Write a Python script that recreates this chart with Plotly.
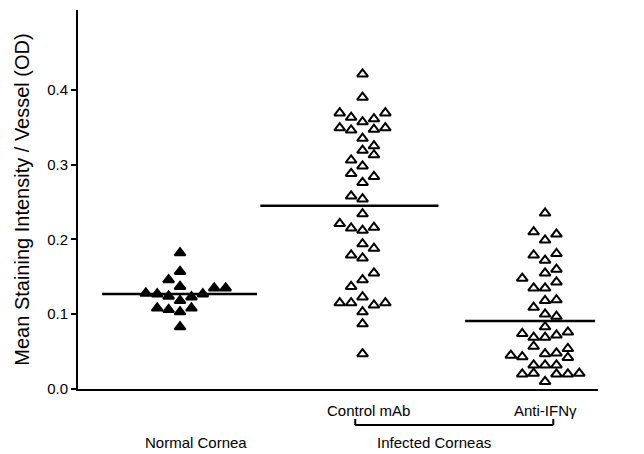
import plotly.graph_objects as go

# ---------------- data ----------------
group_names = ["Normal Cornea", "Control mAb", "Anti-IFNγ"]

# column slot (beeswarm offset) and value for each point
normal_slot = [0, 0, -1, 0, -3, -2, 3, 4, -1, 2, 1, 0, -2, -1, 1, 0, 0]
normal_val = [0.182, 0.157, 0.146, 0.137, 0.128, 0.127, 0.135, 0.135, 0.124,
              0.127, 0.123, 0.118, 0.108, 0.106, 0.108, 0.103, 0.083]

control_slot = [0, 0, -2, -1, 0, 1, 2, -2, -1, 0, 1, 2, 0, 1, 1, -1, 0, -1, 1, 0,
                -1, 0, 0, -2, -1, 0, 1, 0, 1, -1, 0, 1, 0, -1, -2, -1, 0, 1, 2,
                0, 0, 0]
control_val = [0.421, 0.390, 0.369, 0.363, 0.357, 0.361, 0.369, 0.349, 0.346,
               0.335, 0.347, 0.349, 0.319, 0.325, 0.313, 0.306, 0.298, 0.288,
               0.284, 0.276, 0.258, 0.254, 0.234, 0.221, 0.215, 0.212, 0.216,
               0.194, 0.188, 0.179, 0.175, 0.155, 0.146, 0.137, 0.115, 0.115,
               0.123, 0.112, 0.115, 0.103, 0.087, 0.047]

anti_slot = [0, -1, 0, 1, -1, 0, 1, 0, 1, -2, 1, -1, 0, -1, 0, 1, 0, 1, 0, -2,
             -1, 0, 1, 2, -1, 0, 1, 2, 2, -3, -2, -1, 0, 1, -2, -1, 0, 1, 2, 3]
anti_val = [0.235, 0.210, 0.199, 0.207, 0.179, 0.172, 0.181, 0.155, 0.160,
            0.148, 0.143, 0.135, 0.135, 0.109, 0.118, 0.119, 0.100, 0.097,
            0.083, 0.074, 0.069, 0.069, 0.072, 0.076, 0.057, 0.047, 0.048,
            0.054, 0.042, 0.045, 0.043, 0.032, 0.032, 0.032, 0.020, 0.021,
            0.010, 0.020, 0.020, 0.021]

group_means = [0.127, 0.245, 0.091]

y_tick_vals = [0.0, 0.1, 0.2, 0.3, 0.4]
y_title = "Mean Staining Intensity / Vessel (OD)"
infected_label = "Infected Corneas"

# ---------------- layout constants ----------------
# the page body has an 8px margin, so figure pixel = screen pixel - 8
OFF = 8
W, H = 644, 454
ML, MR, MT, MB = 78 - OFF, 54, 10 - OFF, H - (389 - OFF)
SLOT = 0.0625                      # x width of one beeswarm column (group units)
X_RANGE = [-0.559, 2.29]
Y_RANGE = [0, 0.5067]
line_ext = [(-0.427, 0.422), (-0.56, 0.416), (-0.438, 0.274)]
FONT = "Liberation Sans, Arial, Helvetica, sans-serif"

def xp(x):
    """data x -> paper x"""
    return (x - X_RANGE[0]) / (X_RANGE[1] - X_RANGE[0])

def yp(py_screen):
    """screen pixel y (from top) -> paper y"""
    py = py_screen - OFF
    return (H - MB - py) / (H - MB - MT)

fig = go.Figure()

series = [
    (normal_slot, normal_val, "triangle-up", "black"),
    (control_slot, control_val, "triangle-up-open", "black"),
    (anti_slot, anti_val, "triangle-up-open", "black"),
]
for gi, (slots, vals, sym, col) in enumerate(series):
    fig.add_trace(go.Scatter(
        x=[gi + s * SLOT for s in slots], y=vals, mode="markers",
        marker=dict(symbol=sym, size=9.5, color=col,
                    line=dict(color="black", width=2)),
        showlegend=False, cliponaxis=False))

for gi, m in enumerate(group_means):
    a, b = line_ext[gi]
    fig.add_trace(go.Scatter(
        x=[gi + a, gi + b], y=[m, m], mode="lines",
        line=dict(color="black", width=2.5), showlegend=False))

annos = [
    dict(x=1.03, y=yp(410), text=group_names[1]),
    dict(x=2.0, y=yp(410), text=group_names[2]),
    dict(x=0.09, y=yp(442), text=group_names[0]),
    dict(x=1.39, y=yp(442), text=infected_label),
]
for a in annos:
    fig.add_annotation(x=a["x"], y=a["y"], xref="x", yref="paper",
                       text=a["text"], showarrow=False,
                       font=dict(family=FONT, size=15, color="black"),
                       xanchor="center", yanchor="middle")

# bracket under the infected groups
bx0, bx1 = xp(1 - 0.04), xp(2 + 0.045)
by_top, by_bot = yp(419), yp(425)
bl = dict(color="black", width=2)
fig.add_shape(type="line", xref="paper", yref="paper", x0=bx0, x1=bx1,
              y0=by_bot, y1=by_bot, line=bl)
fig.add_shape(type="line", xref="paper", yref="paper", x0=bx0, x1=bx0,
              y0=by_top, y1=by_bot, line=bl)
fig.add_shape(type="line", xref="paper", yref="paper", x0=bx1, x1=bx1,
              y0=by_top, y1=by_bot, line=bl)

fig.update_layout(
    width=W, height=H,
    margin=dict(l=ML, r=MR, t=MT, b=MB),
    paper_bgcolor="white", plot_bgcolor="white",
    font=dict(family=FONT, size=15, color="black"),
    xaxis=dict(range=X_RANGE, showline=True, linewidth=2, linecolor="black",
               showticklabels=False, ticks="", showgrid=False, zeroline=False),
    yaxis=dict(range=Y_RANGE, showline=True, linewidth=2, linecolor="black",
               tickvals=y_tick_vals, tickformat=".1f", ticks="outside",
               ticklen=5, tickwidth=2, tickcolor="black", showgrid=False,
               zeroline=False, tickfont=dict(size=15),
               title=dict(text=y_title, font=dict(size=20), standoff=12)),
)

fig.write_html("out.html")
